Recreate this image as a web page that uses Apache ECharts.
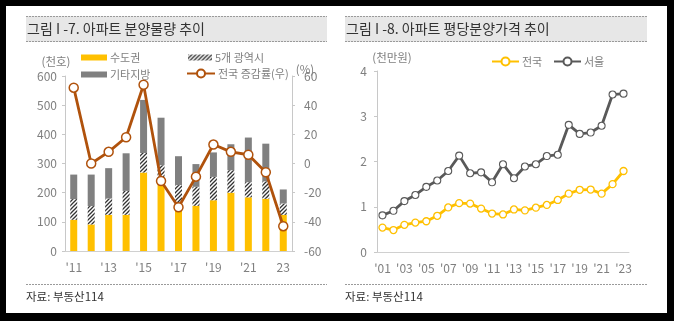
<!DOCTYPE html>
<html><head><meta charset="utf-8">
<script src="https://cdn.jsdelivr.net/npm/echarts@6/dist/echarts.min.js"></script>
<style>
html,body{margin:0;padding:0;background:#000;width:674px;height:321px;overflow:hidden;}
#frame{position:absolute;left:6px;top:6px;width:661px;height:307px;background:#fff;}
#chart{position:absolute;left:0;top:0;width:674px;height:321px;}
</style></head>
<body><div id="frame"></div><div id="chart"></div>
<script>
// Left chart data (thousand units; %)
const years1 = ["'11","'12","'13","'14","'15","'16","'17","'18","'19","'20","'21","'22","23"];
const capital = [107, 91, 124, 124, 269, 229, 158, 155, 174, 200, 184, 179, 124];
const metro   = [71, 63, 56, 82, 67, 65, 68, 65, 80, 77, 52, 60, 39];
const other   = [84, 108, 104, 129, 182, 163, 99, 78, 84, 89, 153, 129, 48];
const growth  = [52, 0, 8, 18, 54, -12, -30, -9, 13, 8, 6, -6, -43];
const leftTicks = [0, 100, 200, 300, 400, 500, 600];
const rightTicks = [-60, -40, -20, 0, 20, 40, 60];

// Right chart data (10 million won)
const years2 = ["'01","'02","'03","'04","'05","'06","'07","'08","'09","'10","'11","'12","'13","'14","'15","'16","'17","'18","'19","'20","'21","'22","'23"];
const national = [0.54,0.485,0.60,0.65,0.68,0.80,0.985,1.08,1.07,0.96,0.85,0.83,0.94,0.92,0.98,1.04,1.15,1.29,1.375,1.38,1.29,1.50,1.79];
const seoul    = [0.81,0.91,1.125,1.26,1.44,1.58,1.79,2.13,1.74,1.76,1.54,1.94,1.63,1.89,1.94,2.12,2.15,2.81,2.61,2.64,2.79,3.48,3.50];

const FONT = '"Noto Sans CJK KR", "Noto Sans", sans-serif';
const YEL = '#FFC000', GRY = '#808080', BRN = '#B0520C', DGR = '#595959';
const LBL = '#7f7f7f';

// hatch pattern
const pc = document.createElement('canvas');
pc.width = 4; pc.height = 4;
const g = pc.getContext('2d');
g.fillStyle = '#fff'; g.fillRect(0,0,4,4);
g.strokeStyle = '#333'; g.lineWidth = 1.3;
g.beginPath();
g.moveTo(0,4); g.lineTo(4,0);
g.moveTo(-1,1); g.lineTo(1,-1);
g.moveTo(3,5); g.lineTo(5,3);
g.stroke();
const hatch = {image: pc, repeat: 'repeat'};

const chart = echarts.init(document.getElementById('chart'), null, {renderer: 'canvas'});

function titleBox(x, w, text) {
  return [
    {type:'rect', shape:{x:x, y:16, width:w, height:26}, style:{fill:'#e7e7e7'}},
    {type:'line', shape:{x1:x, y1:16.5, x2:x+w, y2:16.5}, style:{stroke:'#9a9a9a', lineWidth:1, lineDash:[2,1]}},
    {type:'line', shape:{x1:x, y1:41.5, x2:x+w, y2:41.5}, style:{stroke:'#9a9a9a', lineWidth:1, lineDash:[2,1]}},
    {type:'text', x:x+1, y:29, style:{text:text, fill:'#333', font:'14px ' + FONT, verticalAlign:'middle'}},
    {type:'line', shape:{x1:x, y1:284.5, x2:x+w, y2:284.5}, style:{stroke:'#9a9a9a', lineWidth:1, lineDash:[2,1]}},
    {type:'text', x:x, y:297, style:{text:'자료: 부동산114', fill:'#333', font:'11.5px ' + FONT, verticalAlign:'middle'}}
  ];
}

const legText = {color: LBL, fontSize: 11, fontFamily: FONT, padding:[0,0,0,-2]};
function leg(name, left, top, w, h, icon) {
  const o = {data:[name], left:left, top:top, itemWidth:w, itemHeight:h, itemGap:0, padding:0, textStyle:legText, selectedMode:false};
  if (icon) o.icon = icon;
  return o;
}

const option = {
  animation: false,
  textStyle: {fontFamily: FONT},
  graphic: [].concat(
    titleBox(26, 301, '그림 I -7. 아파트 분양물량 추이'),
    titleBox(345, 302, '그림 I -8. 아파트 평당분양가격 추이'),
    [
      {type:'text', x:56, y:62, style:{text:'(천호)', fill:LBL, font:'11.5px ' + FONT, align:'center', verticalAlign:'middle'}},
      {type:'text', x:305, y:70, style:{text:'(%)', fill:LBL, font:'11.5px ' + FONT, align:'center', verticalAlign:'middle'}},
      {type:'text', x:392, y:58, style:{text:'(천만원)', fill:LBL, font:'11.5px ' + FONT, align:'center', verticalAlign:'middle'}}
    ]
  ),
  legend: [
    leg('수도권', 81, 52, 26, 6, 'rect'),
    leg('5개 광역시', 188, 52, 24, 6, 'rect'),
    leg('기타지방', 81, 69, 26, 6, 'rect'),
    leg('전국 증감률(우)', 186, 68, 28, 10),
    leg('전국', 491, 56, 27, 10),
    leg('서울', 553, 56, 27, 10)
  ],
  grid: [
    {left:65, right:382, top:76, bottom:70},
    {left:377, right:45, top:71, bottom:69}
  ],
  xAxis: [
    {type:'category', gridIndex:0, data:years1, boundaryGap:true,
     axisLine:{lineStyle:{color:'#d0d0d0'}}, axisTick:{show:false},
     axisLabel:{interval:1, color:LBL, fontSize:12, margin:10}},
    {type:'category', gridIndex:1, data:years2, boundaryGap:true,
     axisLine:{lineStyle:{color:'#d0d0d0'}}, axisTick:{show:false},
     axisLabel:{interval:1, color:LBL, fontSize:12, margin:10}}
  ],
  yAxis: [
    {type:'value', gridIndex:0, min:leftTicks[0], max:leftTicks[leftTicks.length-1], interval:100,
     axisLine:{show:true, lineStyle:{color:'#c8c8c8'}}, axisTick:{show:true, length:3, lineStyle:{color:'#c8c8c8'}},
     splitLine:{show:false}, axisLabel:{color:LBL, fontSize:12, margin:8}},
    {type:'value', gridIndex:0, position:'right', min:rightTicks[0], max:rightTicks[rightTicks.length-1], interval:20,
     axisLine:{show:true, lineStyle:{color:'#c8c8c8'}}, axisTick:{show:true, length:3, lineStyle:{color:'#c8c8c8'}},
     splitLine:{show:false}, axisLabel:{color:LBL, fontSize:12, margin:12}},
    {type:'value', gridIndex:1, min:0, max:4, interval:1,
     axisLine:{show:true, lineStyle:{color:'#c8c8c8'}}, axisTick:{show:true, length:3, lineStyle:{color:'#c8c8c8'}},
     splitLine:{show:false}, axisLabel:{color:LBL, fontSize:12, margin:10}}
  ],
  series: [
    {name:'수도권', type:'bar', stack:'s', xAxisIndex:0, yAxisIndex:0, data:capital, barWidth:7, itemStyle:{color:YEL}},
    {name:'5개 광역시', type:'bar', stack:'s', xAxisIndex:0, yAxisIndex:0, data:metro, barWidth:7, itemStyle:{color:hatch}},
    {name:'기타지방', type:'bar', stack:'s', xAxisIndex:0, yAxisIndex:0, data:other, barWidth:7, itemStyle:{color:GRY}},
    {name:'전국 증감률(우)', type:'line', xAxisIndex:0, yAxisIndex:1, data:growth, z:5,
     symbol:'circle', symbolSize:9, lineStyle:{color:BRN, width:2.8},
     itemStyle:{color:'#fff', borderColor:BRN, borderWidth:1.5}},
    {name:'전국', type:'line', xAxisIndex:1, yAxisIndex:2, data:national, z:4,
     symbol:'circle', symbolSize:7, lineStyle:{color:YEL, width:2.8},
     itemStyle:{color:'#fff', borderColor:YEL, borderWidth:1.3}},
    {name:'서울', type:'line', xAxisIndex:1, yAxisIndex:2, data:seoul, z:4,
     symbol:'circle', symbolSize:7, lineStyle:{color:DGR, width:2.8},
     itemStyle:{color:'#fff', borderColor:DGR, borderWidth:1.1}}
  ]
};
chart.setOption(option);
</script>
</body></html>
